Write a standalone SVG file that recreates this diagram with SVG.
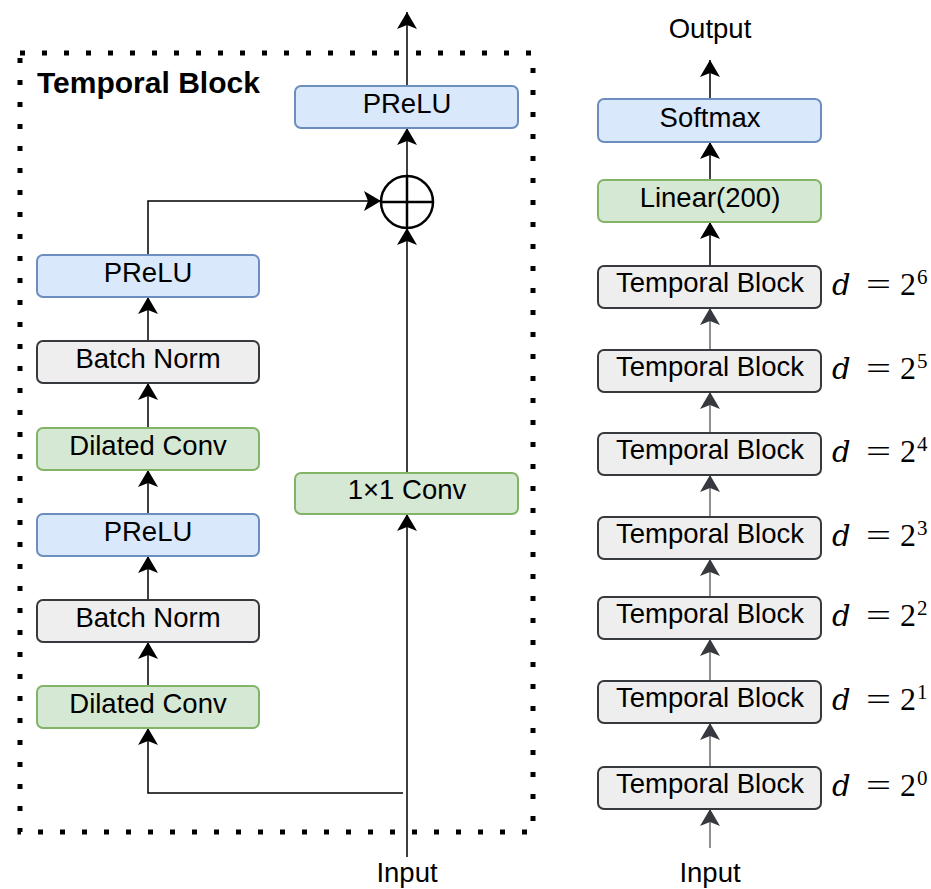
<svg xmlns="http://www.w3.org/2000/svg" width="931" height="889" viewBox="0 0 931 889">
<defs>
<style>
.box{stroke-width:2}
.blue{fill:#dae8fc;stroke:#6c8ebf}
.green{fill:#d5e8d4;stroke:#82b366}
.gray{fill:#eeeeee;stroke:#36393d}
.lbl{font-family:"Liberation Sans",Arial,sans-serif;font-size:27.5px;fill:#000;text-anchor:middle}
.math text{font-family:"Liberation Serif","Times New Roman",serif;font-size:32px;fill:#000}
.math .v{font-family:"DejaVu Serif","Liberation Serif",serif;font-style:italic;font-size:29px}
.math .sup{font-size:21px}
.ln{fill:none;stroke:#000;stroke-width:1.5}
.lg{fill:none;stroke:#555;stroke-width:1.3}
</style>
<marker id="ah" markerUnits="userSpaceOnUse" markerWidth="18" markerHeight="20" viewBox="0 0 18 20" refX="17" refY="10" orient="auto">
<path d="M0,0 L17,10 L0,20 L4,10 Z" fill="#000"/>
</marker>
<marker id="ahg" markerUnits="userSpaceOnUse" markerWidth="18" markerHeight="20" viewBox="0 0 18 20" refX="17" refY="10" orient="auto">
<path d="M0,0 L17,10 L0,20 L4,10 Z" fill="#36393d"/>
</marker>
</defs>
<rect x="0" y="0" width="931" height="889" fill="#fff"/>
<g id="frame">
<rect x="20" y="53" width="513" height="779" fill="none" stroke="#000" stroke-width="5" stroke-dasharray="5 17"/>
<text x="37" y="93" font-family="'Liberation Sans',Arial,sans-serif" font-size="30" font-weight="bold">Temporal Block</text>
</g>
<g id="connectors">
<path class="ln" d="M407,857 L407,514" marker-end="url(#ah)"/>
<path class="ln" d="M403,793 L148,793 L148,728" marker-end="url(#ah)"/>
<path class="ln" d="M148,686 L148,642" marker-end="url(#ah)"/>
<path class="ln" d="M148,600 L148,556" marker-end="url(#ah)"/>
<path class="ln" d="M148,514 L148,470" marker-end="url(#ah)"/>
<path class="ln" d="M148,428 L148,383" marker-end="url(#ah)"/>
<path class="ln" d="M148,341 L148,297" marker-end="url(#ah)"/>
<path class="ln" d="M148,255 L148,201 L381,201" marker-end="url(#ah)"/>
<path class="ln" d="M407,473 L407,228" marker-end="url(#ah)"/>
<path class="ln" d="M407,176 L407,128" marker-end="url(#ah)"/>
<path class="ln" d="M407,86 L407,12" marker-end="url(#ah)"/>
<path class="lg" d="M710,848 L710,809" marker-end="url(#ahg)"/>
<path class="lg" d="M710,767 L710,723" marker-end="url(#ahg)"/>
<path class="lg" d="M710,681 L710,639" marker-end="url(#ahg)"/>
<path class="lg" d="M710,597 L710,559" marker-end="url(#ahg)"/>
<path class="lg" d="M710,517 L710,475" marker-end="url(#ahg)"/>
<path class="lg" d="M710,433 L710,392" marker-end="url(#ahg)"/>
<path class="lg" d="M710,350 L710,308" marker-end="url(#ahg)"/>
<path class="ln" d="M710,266 L710,222" marker-end="url(#ah)"/>
<path class="ln" d="M710,180 L710,142" marker-end="url(#ah)"/>
<path class="ln" d="M710,99 L710,60" marker-end="url(#ah)"/>
</g>
<g id="l-prelu2"><rect class="box blue" x="37" y="255" width="222" height="42" rx="6"/><text class="lbl" x="148" y="282">PReLU</text></g>
<g id="l-bn2"><rect class="box gray" x="37" y="341" width="222" height="42" rx="6"/><text class="lbl" x="148" y="368">Batch Norm</text></g>
<g id="l-dc2"><rect class="box green" x="37" y="428" width="222" height="42" rx="6"/><text class="lbl" x="148" y="455">Dilated Conv</text></g>
<g id="l-prelu1"><rect class="box blue" x="37" y="514" width="222" height="42" rx="6"/><text class="lbl" x="148" y="541">PReLU</text></g>
<g id="l-bn1"><rect class="box gray" x="37" y="600" width="222" height="42" rx="6"/><text class="lbl" x="148" y="627">Batch Norm</text></g>
<g id="l-dc1"><rect class="box green" x="37" y="686" width="222" height="42" rx="6"/><text class="lbl" x="148" y="713">Dilated Conv</text></g>
<g id="conv1x1"><rect class="box green" x="295" y="473" width="223" height="41" rx="6"/><text class="lbl" x="407" y="499">1×1 Conv</text></g>
<g id="prelu-out"><rect class="box blue" x="295" y="86" width="223" height="42" rx="6"/><text class="lbl" x="407" y="113">PReLU</text></g>
<g id="sum"><circle cx="407" cy="202" r="26" fill="none" stroke="#000" stroke-width="2.5"/><path d="M381,202 L433,202 M407,176 L407,228" stroke="#000" stroke-width="2.5"/></g>
<g id="input-l"><text class="lbl" x="407" y="882">Input</text></g>
<g id="input-r"><text class="lbl" x="710" y="882">Input</text></g>
<g id="output"><text class="lbl" x="710" y="38">Output</text></g>
<g id="softmax"><rect class="box blue" x="598" y="99" width="223" height="43" rx="6"/><text class="lbl" x="710" y="127">Softmax</text></g>
<g id="linear"><rect class="box green" x="598" y="180" width="223" height="42" rx="6"/><text class="lbl" x="710" y="207">Linear(200)</text></g>
<g id="tb6"><rect class="box gray" x="598" y="266" width="223" height="42" rx="6"/><text class="lbl" x="710" y="292">Temporal Block</text></g>
<g id="tb5"><rect class="box gray" x="598" y="350" width="223" height="42" rx="6"/><text class="lbl" x="710" y="376">Temporal Block</text></g>
<g id="tb4"><rect class="box gray" x="598" y="433" width="223" height="42" rx="6"/><text class="lbl" x="710" y="459">Temporal Block</text></g>
<g id="tb3"><rect class="box gray" x="598" y="517" width="223" height="42" rx="6"/><text class="lbl" x="710" y="543">Temporal Block</text></g>
<g id="tb2"><rect class="box gray" x="598" y="597" width="223" height="42" rx="6"/><text class="lbl" x="710" y="623">Temporal Block</text></g>
<g id="tb1"><rect class="box gray" x="598" y="681" width="223" height="42" rx="6"/><text class="lbl" x="710" y="707">Temporal Block</text></g>
<g id="tb0"><rect class="box gray" x="598" y="767" width="223" height="42" rx="6"/><text class="lbl" x="710" y="793">Temporal Block</text></g>
<g id="d6" class="math"><text class="v" x="832" y="295">d</text><text x="866" y="295" textLength="25" lengthAdjust="spacingAndGlyphs">=</text><text x="900" y="295">2</text><text class="sup" x="917" y="284">6</text></g>
<g id="d5" class="math"><text class="v" x="832" y="379">d</text><text x="866" y="379" textLength="25" lengthAdjust="spacingAndGlyphs">=</text><text x="900" y="379">2</text><text class="sup" x="917" y="368">5</text></g>
<g id="d4" class="math"><text class="v" x="832" y="462">d</text><text x="866" y="462" textLength="25" lengthAdjust="spacingAndGlyphs">=</text><text x="900" y="462">2</text><text class="sup" x="917" y="451">4</text></g>
<g id="d3" class="math"><text class="v" x="832" y="546">d</text><text x="866" y="546" textLength="25" lengthAdjust="spacingAndGlyphs">=</text><text x="900" y="546">2</text><text class="sup" x="917" y="535">3</text></g>
<g id="d2" class="math"><text class="v" x="832" y="626">d</text><text x="866" y="626" textLength="25" lengthAdjust="spacingAndGlyphs">=</text><text x="900" y="626">2</text><text class="sup" x="917" y="615">2</text></g>
<g id="d1" class="math"><text class="v" x="832" y="710">d</text><text x="866" y="710" textLength="25" lengthAdjust="spacingAndGlyphs">=</text><text x="900" y="710">2</text><text class="sup" x="917" y="699">1</text></g>
<g id="d0" class="math"><text class="v" x="832" y="796">d</text><text x="866" y="796" textLength="25" lengthAdjust="spacingAndGlyphs">=</text><text x="900" y="796">2</text><text class="sup" x="917" y="785">0</text></g>
</svg>
